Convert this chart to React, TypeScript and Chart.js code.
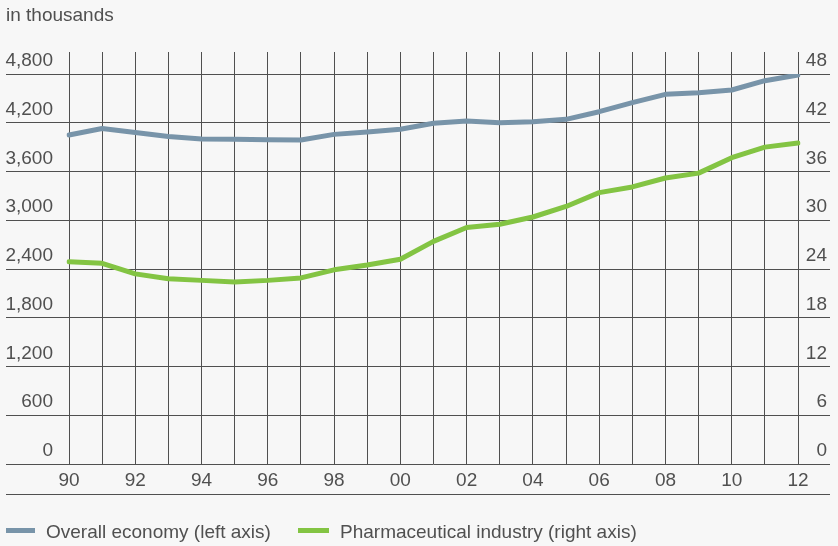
import React, { useEffect, useRef } from "react";
import { Chart, registerables } from "chart.js";

Chart.register(...registerables);

// Years 1990–2012 shown as two-digit labels
const years = [
  "90", "91", "92", "93", "94", "95", "96", "97", "98", "99", "00", "01",
  "02", "03", "04", "05", "06", "07", "08", "09", "10", "11", "12",
];

// Employees, in thousands
const overallEconomy = [
  4050, 4130, 4080, 4030, 4000, 3996, 3992, 3988, 4057, 4086, 4119, 4193,
  4222, 4201, 4213, 4242, 4336, 4447, 4550, 4570, 4603, 4718, 4788,
];
const pharmaIndustry = [
  24.9, 24.7, 23.4, 22.8, 22.6, 22.4, 22.6, 22.9, 23.9, 24.5, 25.2, 27.4,
  29.1, 29.5, 30.4, 31.7, 33.4, 34.1, 35.2, 35.8, 37.7, 39.0, 39.5,
];

const leftTicks = [0, 600, 1200, 1800, 2400, 3000, 3600, 4200, 4800];
const rightTicks = [0, 6, 12, 18, 24, 30, 36, 42, 48];

const seriesNames = ["Overall economy (left axis)", "Pharmaceutical industry (right axis)"];
const unitLabel = "in thousands";

const BLUE = "#7894a9";
const GREEN = "#83c443";
const GRID = "#505050";
const TEXT = "#505050";
const BG = "#f7f7f7";
const FONT = "'Liberation Sans', Arial, Helvetica, sans-serif";

const bottomRule = {
  id: "bottomRule",
  afterDraw(chart: any) {
    const { ctx, scales } = chart;
    const y = Math.round(scales.x.bottom) + 0.5;
    ctx.save();
    ctx.strokeStyle = GRID;
    ctx.lineWidth = 1;
    ctx.beginPath();
    ctx.moveTo(6, y);
    ctx.lineTo(scales.y1.left + 32, y);
    ctx.stroke();
    ctx.restore();
  },
};

export default function App() {
  const canvasRef = useRef<HTMLCanvasElement | null>(null);

  useEffect(() => {
    if (!canvasRef.current) return;
    const font = { family: FONT, size: 19 };
    const chart = new Chart(canvasRef.current, {
      type: "line",
      data: {
        labels: years,
        datasets: [
          {
            label: seriesNames[0],
            data: overallEconomy,
            yAxisID: "y",
            borderColor: BLUE,
            backgroundColor: BLUE,
            borderWidth: 5,
            pointRadius: 0,
            tension: 0,
            borderJoinStyle: "round",
            borderCapStyle: "round",
          },
          {
            label: seriesNames[1],
            data: pharmaIndustry,
            yAxisID: "y1",
            borderColor: GREEN,
            backgroundColor: GREEN,
            borderWidth: 5,
            pointRadius: 0,
            tension: 0,
            borderJoinStyle: "round",
            borderCapStyle: "round",
          },
        ],
      },
      options: {
        responsive: false,
        animation: false,
        devicePixelRatio: 1,
        layout: { padding: { left: 5, right: 11, top: 52, bottom: 52 } },
        plugins: {
          legend: { display: false },
          tooltip: { enabled: false },
        },
        scales: {
          x: {
            type: "category",
            position: "bottom",
            grid: { color: GRID, lineWidth: 1, drawTicks: false, tickLength: 0 },
            border: { display: false },
            ticks: {
              autoSkip: false,
              maxRotation: 0,
              padding: 5,
              color: TEXT,
              font,
              callback: (_v: any, i: number) => (i % 2 === 0 ? years[i] : ""),
            },
            afterFit: (s: any) => {
              s.height = 30;
            },
          },
          xTop: {
            type: "category",
            position: "top",
            grid: { color: GRID, lineWidth: 1, drawOnChartArea: false, tickLength: 22 },
            border: { display: false },
            ticks: { display: false },
            afterFit: (s: any) => {
              s.height = 22;
            },
          },
          y: {
            position: "left",
            min: 0,
            max: 4800,
            afterBuildTicks: (s: any) => {
              s.ticks = leftTicks.map((value) => ({ value }));
            },
            grid: { color: GRID, lineWidth: 1, tickLength: 63 },
            border: { display: false },
            ticks: {
              padding: -47,
              labelOffset: -13,
              crossAlign: "near",
              color: TEXT,
              font,
              callback: (v: any) => Number(v).toLocaleString("en-US"),
            },
            afterFit: (s: any) => {
              s.width = 64;
            },
          },
          y1: {
            position: "right",
            min: 0,
            max: 48,
            afterBuildTicks: (s: any) => {
              s.ticks = rightTicks.map((value) => ({ value }));
            },
            grid: { color: GRID, lineWidth: 1, drawOnChartArea: false, tickLength: 32 },
            border: { display: false },
            ticks: {
              labelOffset: -13,
              crossAlign: "far",
              color: TEXT,
              font,
              callback: (v: any) => String(v),
            },
            afterFit: (s: any) => {
              s.width = 29;
            },
          },
        },
      },
      plugins: [bottomRule],
    } as any);
    return () => chart.destroy();
  }, []);

  const textStyle: React.CSSProperties = {
    position: "absolute",
    fontFamily: FONT,
    fontSize: 19,
    lineHeight: "19px",
    color: TEXT,
    whiteSpace: "nowrap",
  };

  return (
    <div
      style={{
        position: "fixed",
        left: 0,
        top: 0,
        width: 838,
        height: 546,
        background: BG,
        overflow: "hidden",
      }}
    >
      <canvas
        ref={canvasRef}
        width={838}
        height={546}
        style={{ position: "absolute", left: 0, top: 0, width: 838, height: 546 }}
      />
      <div style={{ ...textStyle, left: 6, top: 5 }}>{unitLabel}</div>
      <div style={{ position: "absolute", left: 6, top: 527.5, width: 29, height: 5, background: BLUE }} />
      <div style={{ ...textStyle, left: 46, top: 521.5 }}>{seriesNames[0]}</div>
      <div style={{ position: "absolute", left: 298, top: 527.5, width: 31, height: 5, background: GREEN }} />
      <div style={{ ...textStyle, left: 340, top: 521.5 }}>{seriesNames[1]}</div>
    </div>
  );
}
